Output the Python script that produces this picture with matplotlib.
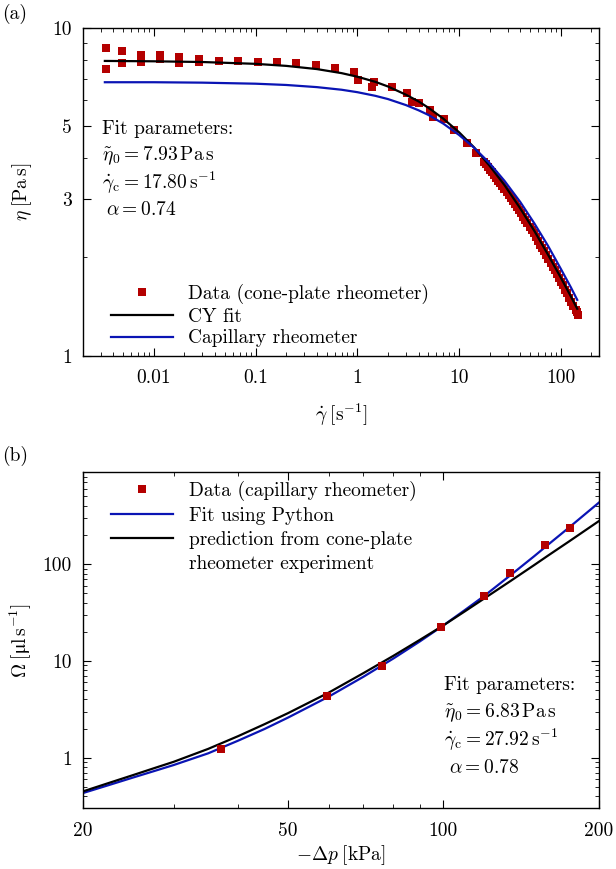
import numpy as np
import matplotlib
matplotlib.use("Agg")
import matplotlib.pyplot as plt
from matplotlib.ticker import NullFormatter

# ---- panel (a): viscosity curve ----
data_a_rate = [0.00335, 0.00335, 0.00481, 0.00481, 0.00746, 0.00746, 0.0115, 0.0115,
               0.0178, 0.0178, 0.0278, 0.0278, 0.0434, 0.067, 0.105, 0.162, 0.25, 0.39,
               0.60, 0.93, 1.02, 1.38, 1.45, 2.2, 3.09, 3.45, 4.02, 5.15, 5.56, 7.06,
               9.0, 12.0, 14.8, 17.4, 18.2, 19.1, 20.0, 21.0, 22.0, 23.1, 24.2, 25.4,
               26.6, 27.9, 29.3, 30.7, 32.2, 33.7, 35.4, 37.1, 38.9, 40.8, 42.8, 44.8,
               47.0, 49.3, 51.7, 54.2, 56.8, 59.6, 62.5, 65.5, 68.7, 72.0, 75.5, 79.2,
               83.1, 87.1, 91.3, 95.8, 100.3, 105, 110, 116, 121.5, 127, 133, 140,
               144, 148]
data_a_eta = [8.65, 7.47, 8.49, 7.82, 8.26, 7.88, 8.26, 8.01, 8.16, 7.79, 8.01, 7.88,
              7.93, 7.93, 7.88, 7.88, 7.79, 7.71, 7.52, 7.31, 6.93, 6.60, 6.85, 6.61,
              6.31, 5.95, 5.88, 5.61, 5.36, 5.26, 4.88, 4.45, 4.15, 3.90, 3.83, 3.76,
              3.69, 3.63, 3.56, 3.49, 3.42, 3.36, 3.29, 3.23, 3.16, 3.10, 3.03, 2.97,
              2.90, 2.84, 2.78, 2.72, 2.65, 2.59, 2.53, 2.47, 2.41, 2.36, 2.30, 2.24,
              2.18, 2.13, 2.08, 2.03, 1.97, 1.92, 1.87, 1.82, 1.77, 1.73, 1.68, 1.64,
              1.59, 1.55, 1.50, 1.46, 1.42, 1.38, 1.36, 1.33]

fit_a_rate = [0.0033, 0.01, 0.03, 0.1, 0.2, 0.4, 0.7, 1, 1.5, 2, 3, 4, 5, 7, 10, 14,
              20, 28, 40, 55, 75, 100, 125, 145]
cy_fit_eta = [7.92, 7.90, 7.86, 7.76, 7.65, 7.48, 7.27, 7.09, 6.84, 6.62, 6.25, 5.96,
              5.70, 5.28, 4.80, 4.32, 3.79, 3.31, 2.81, 2.40, 2.03, 1.73, 1.52, 1.39]
capillary_eta = [6.82, 6.82, 6.80, 6.75, 6.69, 6.59, 6.47, 6.36, 6.20, 6.06, 5.81, 5.60,
                 5.42, 5.10, 4.71, 4.31, 3.86, 3.41, 2.94, 2.53, 2.16, 1.84, 1.62, 1.48]

# ---- panel (b): flow rate vs pressure drop ----
data_b_dp = [37.1, 59.6, 76.0, 98.9, 120.1, 134.6, 157.4, 176.2]
data_b_flow = [1.22, 4.33, 8.8, 22.6, 47.4, 81.6, 159, 239]

fit_b_dp = [20, 22.5, 25, 27.5, 30, 35, 40, 45, 50, 60, 70, 80, 90, 100, 110, 120,
            135, 150, 160, 175, 200]
python_fit_flow = [0.431, 0.523, 0.623, 0.728, 0.84, 1.11, 1.50, 1.98, 2.6, 4.29, 6.87,
                   10.6, 15.9, 23.3, 33.5, 47.0, 77.1, 121, 161, 238, 431]
prediction_flow = [0.448, 0.55, 0.66, 0.78, 0.907, 1.234, 1.67, 2.22, 2.89, 4.72, 7.49,
                   11.3, 16.5, 23.3, 32.5, 44.2, 67.1, 98, 124, 171, 278]

red = "#b40000"
blue = "#0a14b4"

plt.rcParams.update({
    "font.family": "serif",
    "font.serif": ["cmr10"],
    "mathtext.fontset": "cm",
    "axes.unicode_minus": False,
    "font.size": 14,
    "axes.linewidth": 1.0,
    "xtick.direction": "in",
    "ytick.direction": "in",
    "xtick.top": True,
    "ytick.right": True,
    "xtick.major.size": 6,
    "ytick.major.size": 6,
    "xtick.minor.size": 3,
    "ytick.minor.size": 3,
    "xtick.major.pad": 10,
    "ytick.major.pad": 8,
})

fig = plt.figure(figsize=(6.16, 8.69), dpi=100)
ax1 = fig.add_axes([0.1343, 0.5907, 0.8377, 0.3774])
ax2 = fig.add_axes([0.1343, 0.0698, 0.8377, 0.3873])

# panel (a)
ax1.plot(data_a_rate, data_a_eta, "s", color=red, ms=5.5, mew=0, zorder=2,
         label="Data (cone-plate rheometer)")
ax1.plot(fit_a_rate, cy_fit_eta, color="black", lw=1.6, zorder=3, label="CY fit")
ax1.plot(fit_a_rate, capillary_eta, color=blue, lw=1.6, zorder=3, label="Capillary rheometer")
ax1.set_xscale("log")
ax1.set_yscale("log")
ax1.set_xlim(0.002, 236)
ax1.set_ylim(1, 10)
ax1.set_xticks([0.01, 0.1, 1, 10, 100], labels=["0.01", "0.1", "1", "10", "100"])
ax1.set_xticks([m * 10.0**k for k in range(-3, 3) for m in range(2, 10)
                if 0.002 <= m * 10.0**k <= 236], minor=True)
ax1.set_yticks([1, 3, 5, 10], labels=["1", "3", "5", "10"])
ax1.set_yticks([2, 4, 6, 7, 8, 9], minor=True)
ax1.xaxis.set_minor_formatter(NullFormatter())
ax1.yaxis.set_minor_formatter(NullFormatter())
ax1.set_xlabel(r"$\dot{\gamma}\;[\mathrm{s}^{-1}]$")
ax1.set_ylabel(r"$\eta\;[\mathrm{Pa\,s}]$")
ax1.xaxis.set_label_coords(0.5, -0.14)
ax1.yaxis.set_label_coords(-0.095, 0.5)
ax1.legend(loc="lower left", bbox_to_anchor=(0.054, 0.025), frameon=False,
           borderpad=0, borderaxespad=0, handlelength=3.2, handletextpad=0.8,
           labelspacing=0.2, numpoints=1)
ax1.text(0.037, 0.691, "Fit parameters:", transform=ax1.transAxes, va="center")
ax1.text(0.037, 0.609, r"$\tilde{\eta}_0 = 7.93\,\mathrm{Pa\,s}$", transform=ax1.transAxes, va="center")
ax1.text(0.037, 0.5265, r"$\dot{\gamma}_\mathrm{c} = 17.80\,\mathrm{s}^{-1}$", transform=ax1.transAxes, va="center")
ax1.text(0.046, 0.444, r"$\alpha = 0.74$", transform=ax1.transAxes, va="center")

# panel (b)
ax2.plot(fit_b_dp, python_fit_flow, color=blue, lw=1.6, zorder=2, label="Fit using Python")
ax2.plot(fit_b_dp, prediction_flow, color="black", lw=1.6, zorder=2,
         label="prediction from cone-plate")
ax2.plot([], [], color="none", label="rheometer experiment")
ax2.plot(data_b_dp, data_b_flow, "s", color=red, ms=5.5, mew=0, zorder=3,
         label="Data (capillary rheometer)")
ax2.set_xscale("log")
ax2.set_yscale("log")
ax2.set_xlim(20, 200)
ax2.set_ylim(0.3, 900)
ax2.set_xticks([20, 50, 100, 200], labels=["20", "50", "100", "200"])
ax2.set_xticks([30, 40, 60, 70, 80, 90], minor=True)
ax2.set_yticks([1, 10, 100], labels=["1", "10", "100"])
ax2.set_yticks([m * 10.0**k for k in range(-1, 3) for m in range(1, 10)
                if 0.3 <= m * 10.0**k <= 900 and m != 1], minor=True)
ax2.xaxis.set_minor_formatter(NullFormatter())
ax2.yaxis.set_minor_formatter(NullFormatter())
ax2.set_xlabel(r"$-\Delta p\;[\mathrm{kPa}]$")
ax2.set_ylabel("$\\Omega\\;[\\mathrm{\u03bcl\\,s}^{-1}]$")
ax2.xaxis.set_label_coords(0.5, -0.105)
ax2.yaxis.set_label_coords(-0.095, 0.5)
handles, labels = ax2.get_legend_handles_labels()
order = [3, 0, 1, 2]
ax2.legend([handles[i] for i in order], [labels[i] for i in order],
           loc="upper left", bbox_to_anchor=(0.055, 0.972), frameon=False,
           borderpad=0, borderaxespad=0, handlelength=3.2, handletextpad=0.8,
           labelspacing=0.3, numpoints=1)
ax2.text(0.700, 0.366, "Fit parameters:", transform=ax2.transAxes, va="center")
ax2.text(0.700, 0.2837, r"$\tilde{\eta}_0 = 6.83\,\mathrm{Pa\,s}$", transform=ax2.transAxes, va="center")
ax2.text(0.700, 0.2035, r"$\dot{\gamma}_\mathrm{c} = 27.92\,\mathrm{s}^{-1}$", transform=ax2.transAxes, va="center")
ax2.text(0.709, 0.1203, r"$\alpha = 0.78$", transform=ax2.transAxes, va="center")

fig.text(15 / 616, 1 - 14 / 869, "(a)", ha="center", va="center")
fig.text(15 / 616, 1 - 456 / 869, "(b)", ha="center", va="center")

fig.savefig("out.png", dpi=100)
